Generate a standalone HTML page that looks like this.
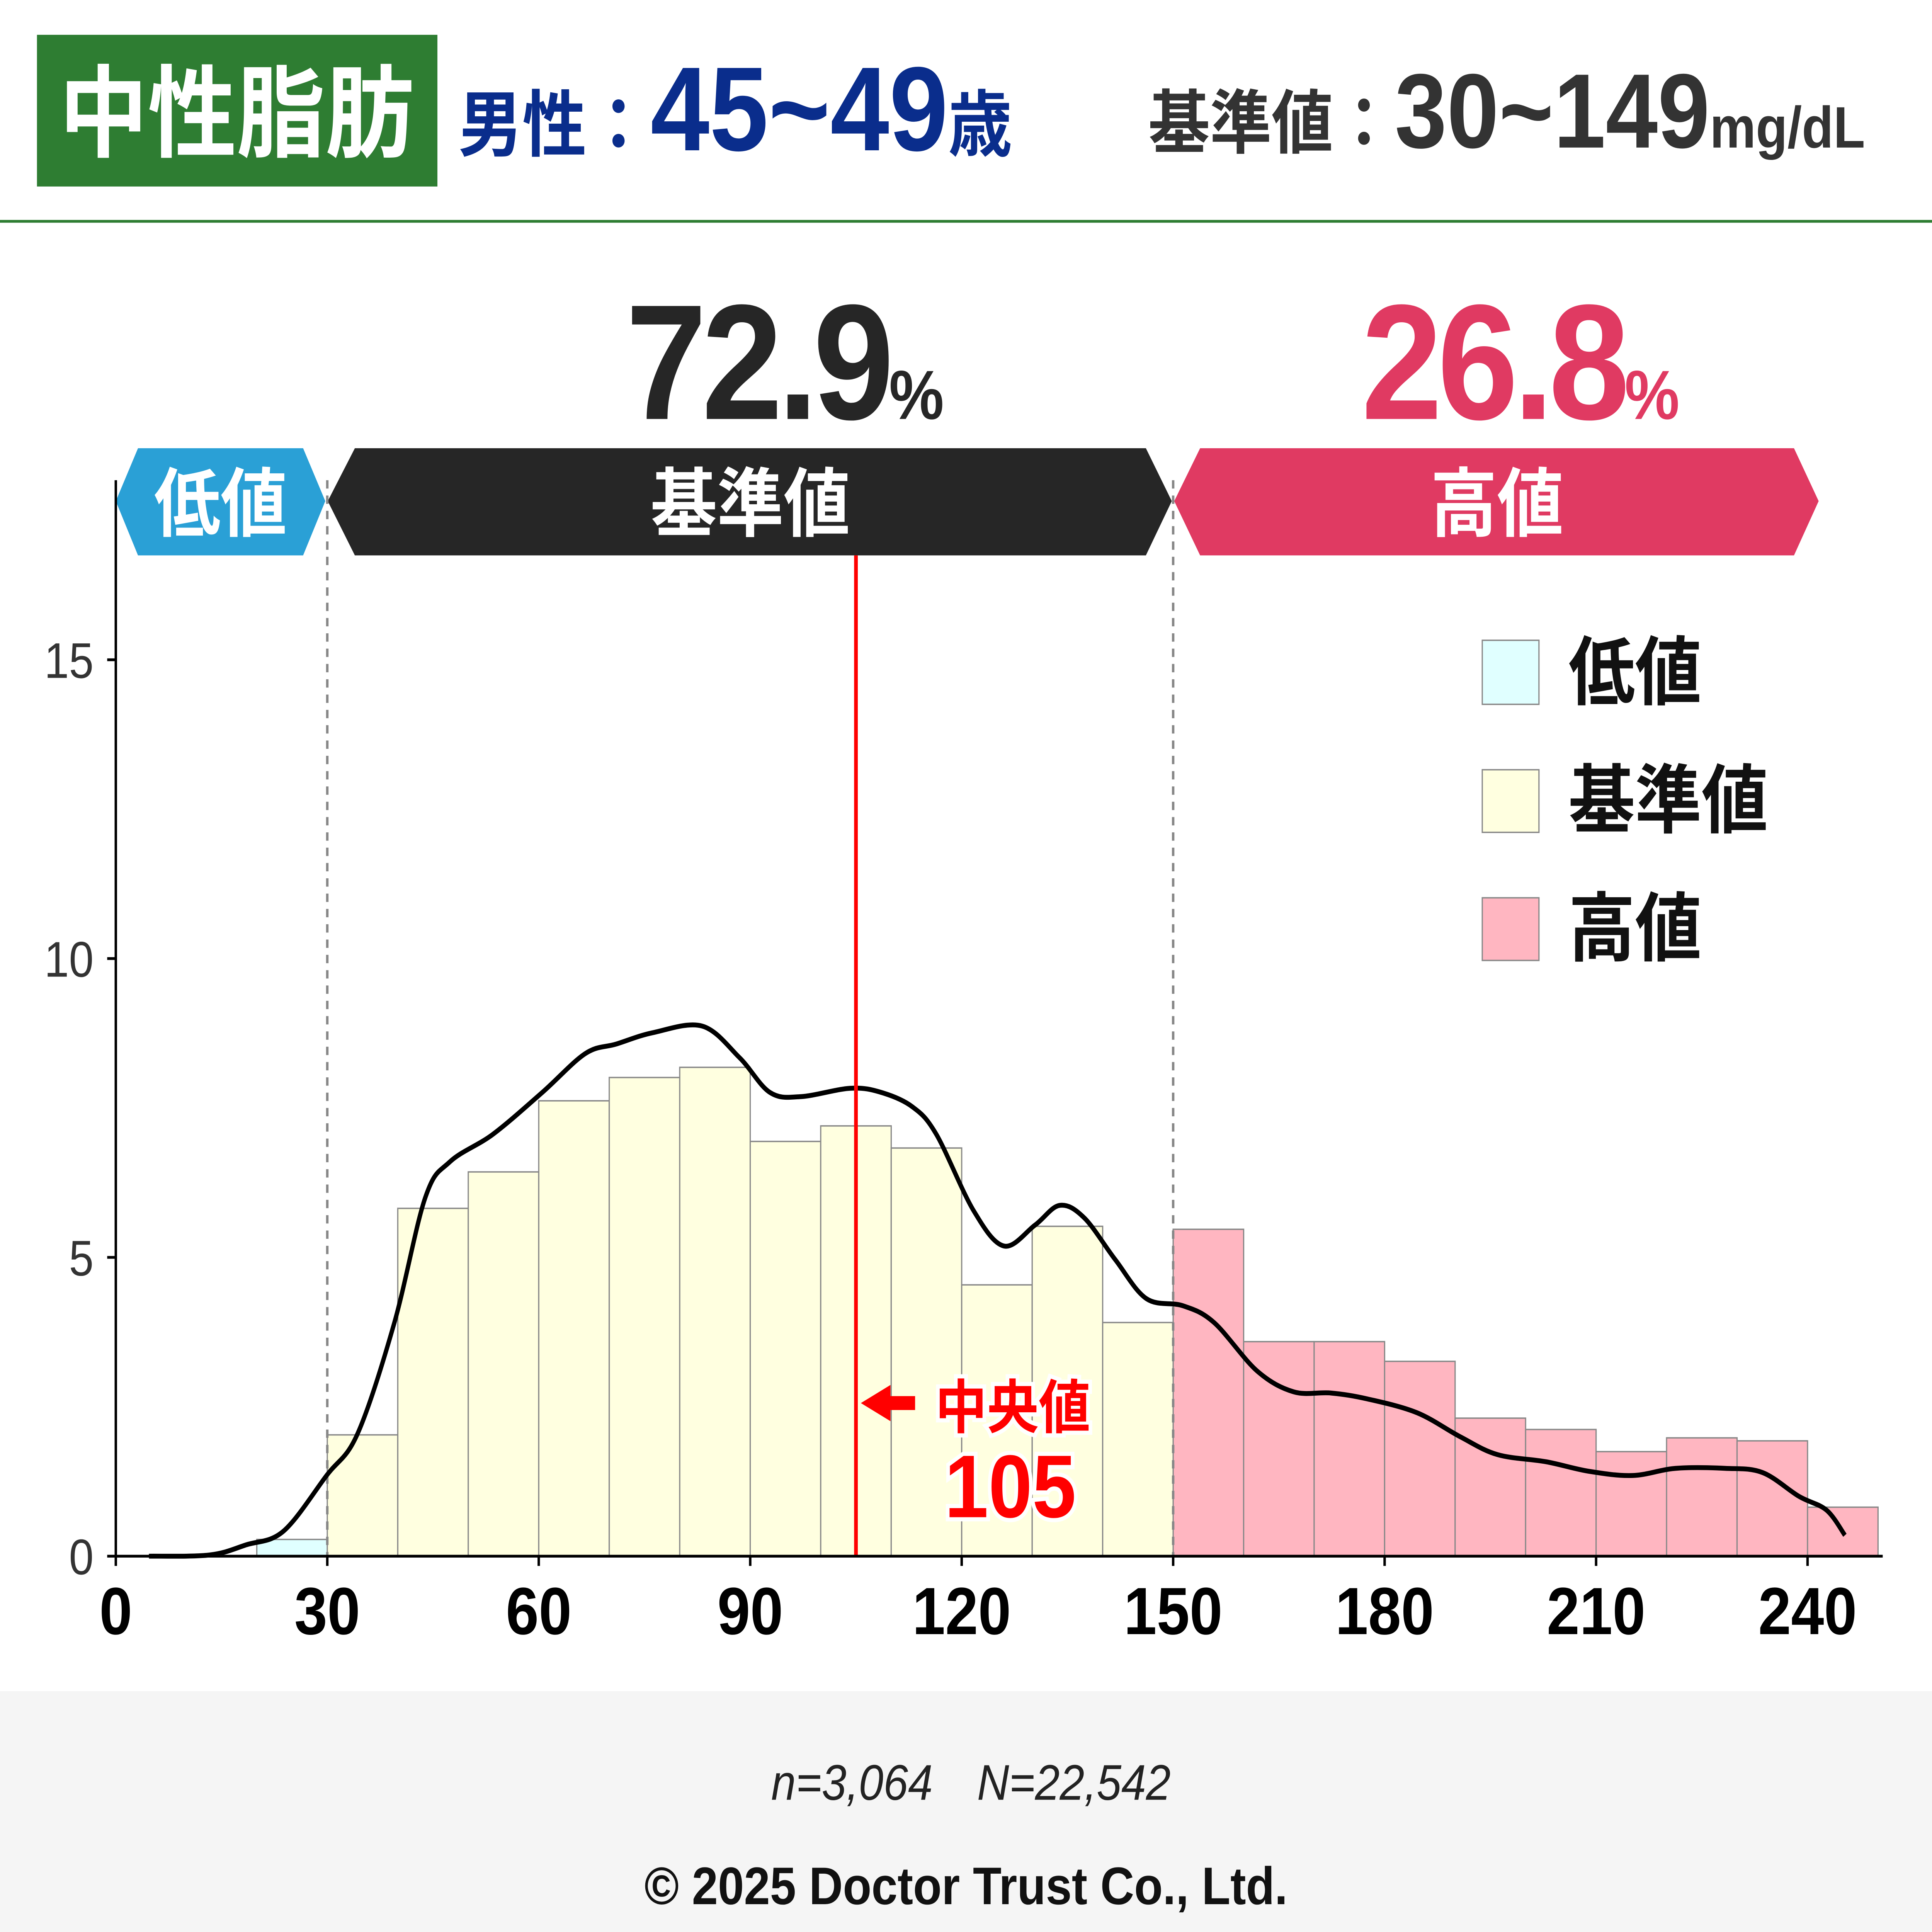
<!DOCTYPE html>
<html><head><meta charset="utf-8">
<style>
html,body{margin:0;padding:0;background:#fff;width:100%;height:100%;overflow:hidden;}
svg{display:block;position:fixed;left:0;top:0;width:100vw;height:100vh;font-family:"Liberation Sans","Noto Sans CJK JP",sans-serif;}
</style></head>
<body>
<svg id="chart" viewBox="0 0 1568 1388" preserveAspectRatio="none" xmlns="http://www.w3.org/2000/svg">
<rect width="1568" height="1388" fill="#fff"/>
<g>
<rect x="30" y="25" width="325" height="109" fill="#2e7d32"/>
<text x="192" y="107" font-size="72" font-weight="bold" fill="#fff" text-anchor="middle">中性脂肪</text>
<text x="372" y="108" font-weight="bold" fill="#0a2d8c"><tspan font-size="52">男性：</tspan><tspan font-size="86">45~49</tspan><tspan font-size="52">歳</tspan></text>
<text x="932" y="106" font-weight="bold" fill="#333"><tspan font-size="50">基準値：</tspan><tspan font-size="76">30~149</tspan><tspan font-size="42">mg/dL</tspan></text>
<rect x="0" y="158" width="1568" height="2" fill="#2e7d32"/>
</g>
<text x="635" y="301" font-size="118" font-weight="bold" fill="#262626" text-anchor="middle" letter-spacing="-4">72.9<tspan font-size="50">%</tspan></text>
<text x="1232" y="301" font-size="118" font-weight="bold" fill="#e03a62" text-anchor="middle" letter-spacing="-4">26.8<tspan font-size="50">%</tspan></text>
<g>
<polygon points="94,360 112,322 246,322 264,360 246,399 112,399" fill="#2aa0d6"/>
<text x="179" y="381" font-size="54" font-weight="bold" fill="#fff" text-anchor="middle">低値</text>
<polygon points="266,360 288,322 930,322 951,360 930,399 288,399" fill="#262626"/>
<text x="609" y="381" font-size="54" font-weight="bold" fill="#fff" text-anchor="middle">基準値</text>
<polygon points="953,360 974,322 1456,322 1476,360 1456,399 974,399" fill="#e03a62"/>
<text x="1215" y="381" font-size="54" font-weight="bold" fill="#fff" text-anchor="middle">高値</text>
</g>
<g id="plot"></g>
<g>
<rect x="1203" y="460" width="46" height="46" fill="#e0ffff" stroke="#888"/>
<text x="1273" y="502" font-size="54" font-weight="bold" fill="#111">低値</text>
<rect x="1203" y="553" width="46" height="45" fill="#ffffe0" stroke="#888"/>
<text x="1273" y="594" font-size="54" font-weight="bold" fill="#111">基準値</text>
<rect x="1203" y="645" width="46" height="45" fill="#ffb6c1" stroke="#888"/>
<text x="1273" y="686" font-size="54" font-weight="bold" fill="#111">高値</text>
</g>
<g>
<rect x="0" y="1215" width="1568" height="173" fill="#f5f5f5"/>
<text x="788" y="1293" font-size="36" font-style="italic" fill="#222" text-anchor="middle">n=3,064　N=22,542</text>
<text x="784" y="1368" font-size="38" font-weight="bold" fill="#111" text-anchor="middle">© 2025 Doctor Trust Co., Ltd.</text>
</g>
</svg>
<script>
const binStarts = [20,30,40,50,60,70,80,90,100,110,120,130,140,150,160,170,180,190,200,210,220,230,240];
const binValues = [0.28,2.03,5.82,6.43,7.62,8.01,8.18,6.94,7.2,6.83,4.54,5.52,3.91,5.47,3.59,3.59,3.26,2.31,2.12,1.75,1.98,1.93,0.82];
const kdeX = [4.7,13.3,18.5,23.8,29.9,34.3,39.5,43.9,47.4,53.5,60.5,66.6,71,76.2,83.2,88.5,92.8,97.2,104.2,108.6,113,116.4,121.7,126,130.4,133.9,137.4,141.8,146.2,151.4,155.8,161.9,167.1,172.4,177.6,184.6,190.7,196,202.9,209,215.2,221.3,228.3,233.6,238.8,242.7,245.3];
const kdeY = [0,0.02,0.19,0.42,1.35,2.05,3.9,6.0,6.6,7.06,7.76,8.41,8.57,8.76,8.87,8.34,7.76,7.69,7.83,7.76,7.52,7.06,5.78,5.19,5.54,5.87,5.66,4.96,4.31,4.19,3.91,3.1,2.75,2.73,2.63,2.4,2.0,1.70,1.58,1.42,1.35,1.47,1.47,1.4,1.0,0.77,0.35];
const xTicks = [0,30,60,90,120,150,180,210,240];
const yTicks = [0,5,10,15];
const medianValue = 105;
const lowLimit = 30, highLimit = 150, binWidth = 10;

const NS = "http://www.w3.org/2000/svg";
const plot = document.getElementById('plot');
const X = v => 94 + v * (1373 / 240);
const Y = v => 1118 - v * (644 / 15);
function mk(tag, attrs, text) {
  const e = document.createElementNS(NS, tag);
  for (const k in attrs) e.setAttribute(k, attrs[k]);
  if (text !== undefined) e.textContent = text;
  plot.appendChild(e);
  return e;
}
binStarts.forEach((s, i) => {
  const fill = s < lowLimit ? '#e0ffff' : (s < highLimit ? '#ffffe0' : '#ffb6c1');
  const r = mk('rect', {x: X(s), y: Y(binValues[i]), width: X(s + binWidth) - X(s), height: Y(0) - Y(binValues[i]), fill: fill, stroke: '#888', 'stroke-width': 1});
  
  
});
[lowLimit, highLimit].forEach(v => {
  const l = mk('line', {x1: X(v), x2: X(v), y1: 345, y2: Y(0), stroke: '#888', 'stroke-width': 2, 'stroke-dasharray': '6,5'});
  
  
});
const pts = kdeX.map((x, i) => [X(x), Y(kdeY[i])]);
let d = `M${pts[0][0]},${pts[0][1]}`;
for (let i = 0; i < pts.length - 1; i++) {
  const p0 = pts[Math.max(0, i - 1)], p1 = pts[i], p2 = pts[i + 1], p3 = pts[Math.min(pts.length - 1, i + 2)];
  const c1 = [p1[0] + (p2[0] - p0[0]) / 6, p1[1] + (p2[1] - p0[1]) / 6];
  const c2 = [p2[0] - (p3[0] - p1[0]) / 6, p2[1] - (p3[1] - p1[1]) / 6];
  d += ` C${c1[0]},${c1[1]} ${c2[0]},${c2[1]} ${p2[0]},${p2[1]}`;
}
const kde = mk('path', {d: d, fill: 'none', stroke: '#000', 'stroke-width': 3.5});


const med = mk('line', {x1: X(medianValue), x2: X(medianValue), y1: 399, y2: Y(0), stroke: '#f00', 'stroke-width': 3});


const arr = mk('path', {d: `M${X(medianValue)+4},1008 l24,-13 v8 h20 v10 h-20 v8 z`, fill: '#f00'});


const ml = mk('text', {x: 822, y: 1026, 'font-size': 42, 'font-weight': 'bold', fill: '#f00', 'text-anchor': 'middle', stroke: '#fff', 'stroke-width': 6, 'paint-order': 'stroke'}, '中央値');


const mv = mk('text', {x: 820, y: 1090, 'font-size': 64, 'font-weight': 'bold', fill: '#f00', 'text-anchor': 'middle', stroke: '#fff', 'stroke-width': 6, 'paint-order': 'stroke'}, String(medianValue));


const ya = mk('line', {x1: 94, x2: 94, y1: 345, y2: Y(0), stroke: '#000', 'stroke-width': 2});


const xa = mk('line', {x1: 94, x2: 1528, y1: Y(0), y2: Y(0), stroke: '#000', 'stroke-width': 2});


yTicks.forEach(t => {
  const tk = mk('line', {x1: 87, x2: 94, y1: Y(t), y2: Y(t), stroke: '#000', 'stroke-width': 2});
  
  
  const tl = mk('text', {x: 76, y: Y(t) + 13, 'font-size': 36, fill: '#333', 'text-anchor': 'end'}, String(t));
  
  
});
xTicks.forEach(t => {
  const tk = mk('line', {x1: X(t), x2: X(t), y1: Y(0), y2: Y(0) + 7, stroke: '#000', 'stroke-width': 2});
  
  
  const tl = mk('text', {x: X(t), y: 1174, 'font-size': 48, 'font-weight': 'bold', fill: '#000', 'text-anchor': 'middle'}, String(t));
  
  
});
</script>
</body></html>
